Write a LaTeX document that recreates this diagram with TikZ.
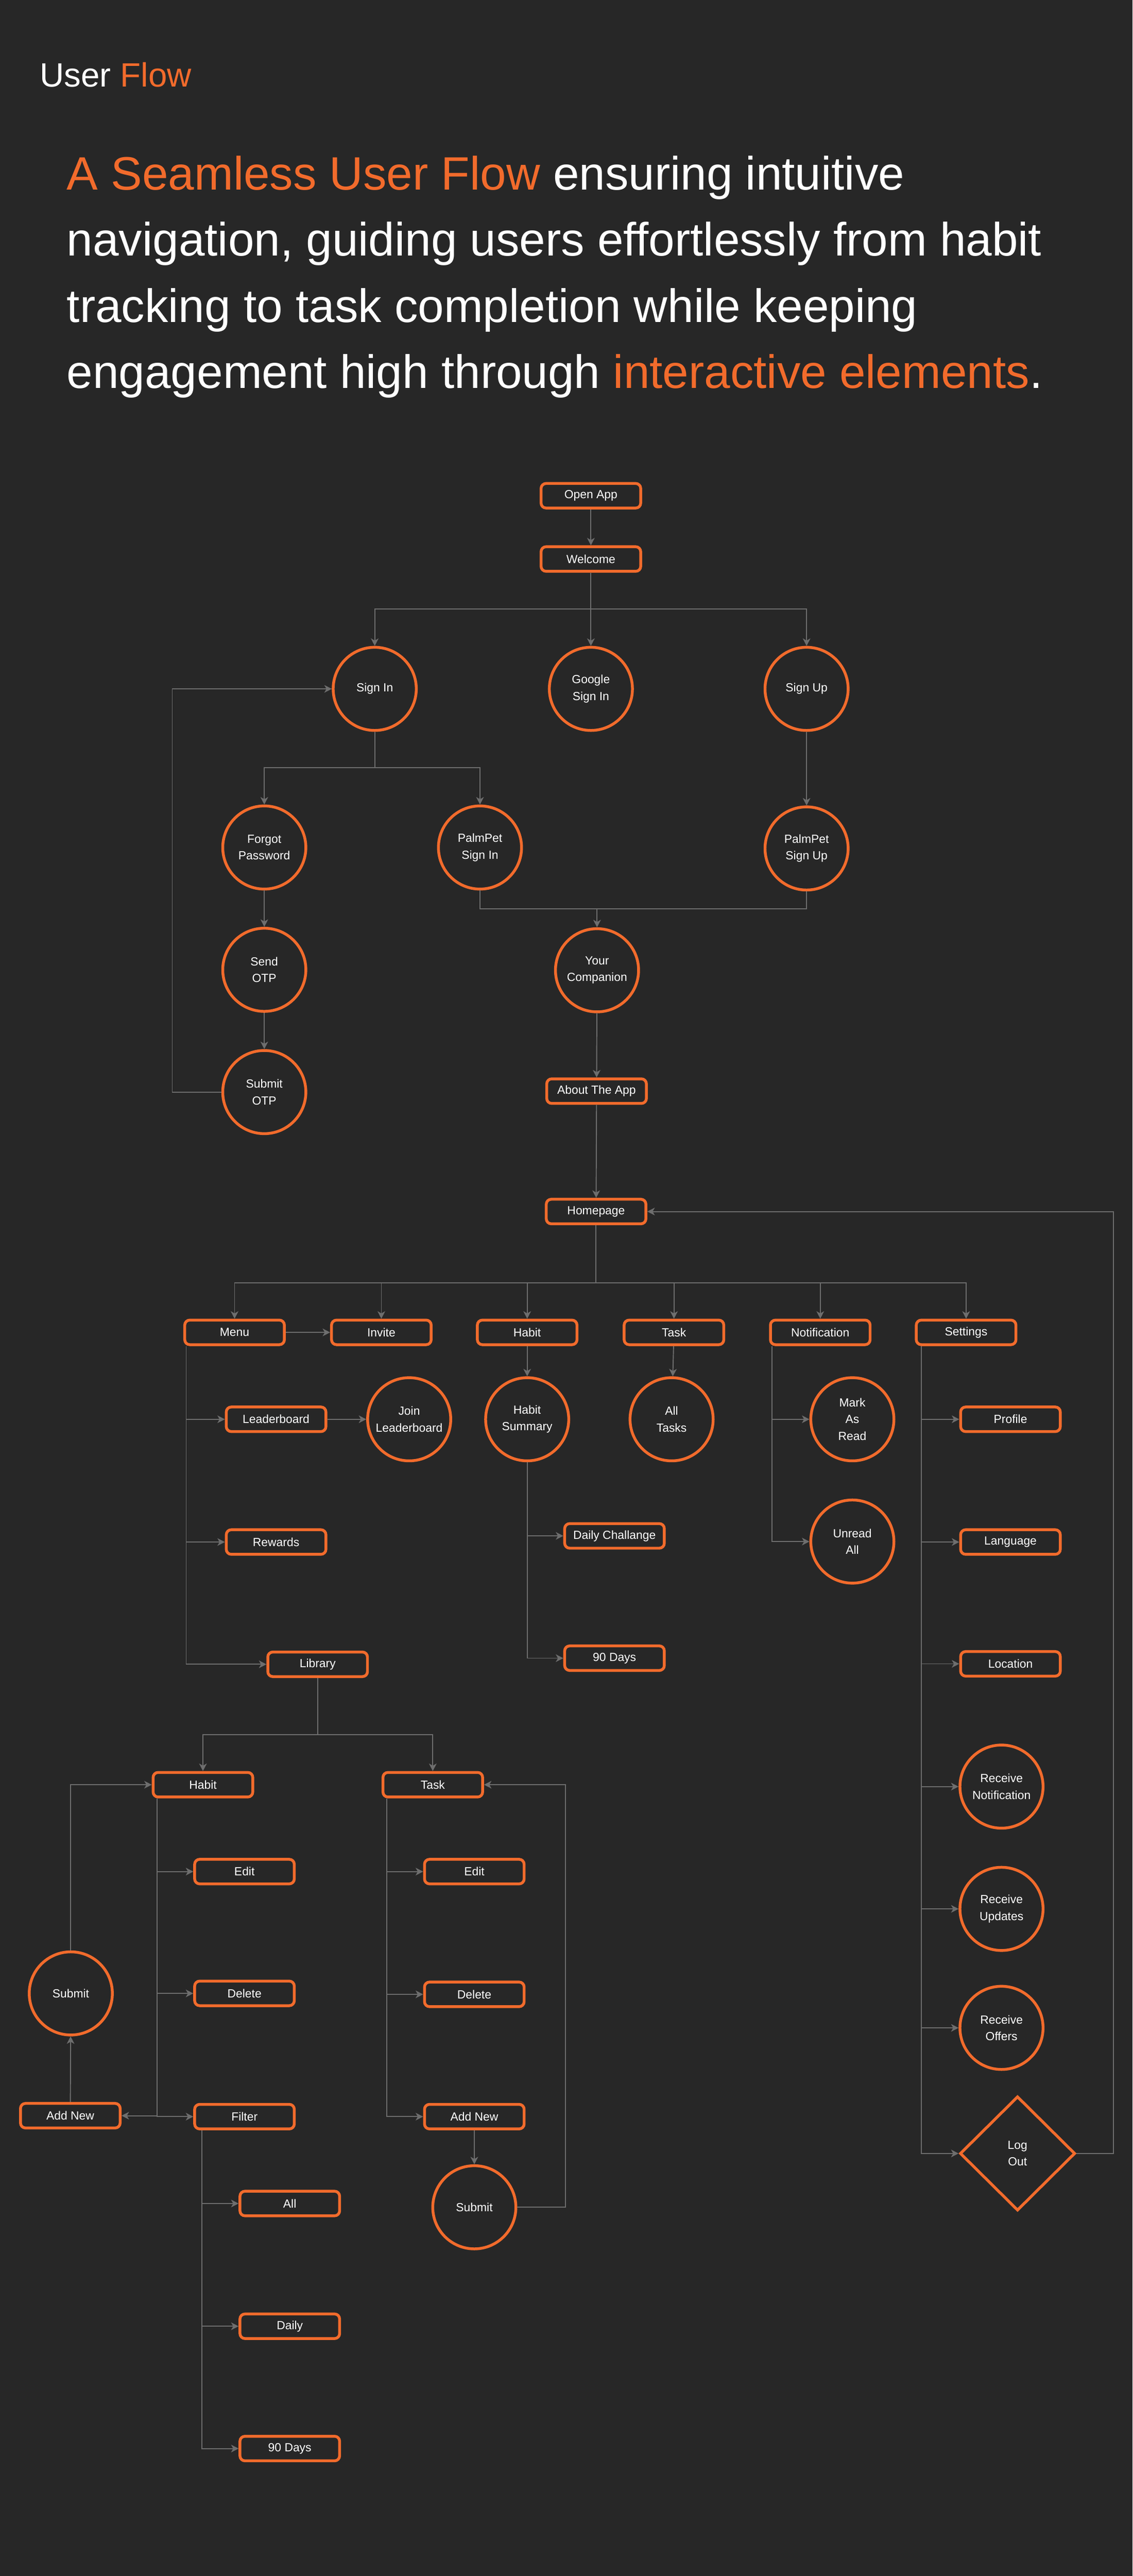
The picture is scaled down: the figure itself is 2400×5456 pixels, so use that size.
\documentclass[tikz,border=0pt]{standalone}
\usepackage{fontspec}
\setmainfont{Liberation Sans}
\usetikzlibrary{arrows.meta,shapes.geometric,calc}
\definecolor{bg}{HTML}{272727}
\definecolor{orng}{HTML}{F26B2C}
\definecolor{conn}{HTML}{6E6E6E}
\newcommand\myNodeFont{\fontsize{7.1pt}{10pt}\selectfont}
\begin{document}
\begin{tikzpicture}[x=0.01cm,y=-0.01cm,
  box/.style={rectangle, rounded corners=3pt, draw=orng, line width=1.7pt, fill=bg,
    minimum width=2.11cm, minimum height=0.52cm, inner sep=0pt, text=white,
    font=\myNodeFont, align=center},
  circ/.style={circle, draw=orng, line width=1.7pt, fill=bg, minimum size=1.76cm,
    inner sep=0pt, text=white, font=\myNodeFont, align=center},
  dia/.style={diamond, draw=orng, line width=1.7pt, fill=bg, minimum width=2.44cm,
    minimum height=2.42cm, inner sep=0pt, text=white, font=\myNodeFont, align=center},
  wire/.style={draw=conn, line width=0.6pt},
  arr/.style={draw=conn, line width=0.6pt, -{Stealth[length=4.5pt,width=4.6pt,inset=1.3pt]}},
  hdr/.style={anchor=base west, inner sep=0pt, text=white},
  para/.style={hdr, font=\fontsize{28.2pt}{34pt}\selectfont}
]
\fill[bg] (0,0) rectangle (2400,5456);
\useasboundingbox (0,0) rectangle (2400,5456);

% header
\node[hdr, font=\fontsize{20.3pt}{24pt}\selectfont] (title) at (84,184) {User \textcolor{orng}{Flow}};
\node[para] (p1) at (141,402) {\textcolor{orng}{A Seamless User Flow} ensuring intuitive};
\node[para] (p2) at (141,542) {navigation, guiding users effortlessly from habit};
\node[para] (p3) at (141,683) {tracking to task completion while keeping};
\node[para] (p4) at (141,822) {engagement high through \textcolor{orng}{interactive elements}.};

% top part
\node[box] (openapp) at (1252,1050) {Open App};
\node[box] (welcome) at (1252,1184) {Welcome};
\node[circ] (signin) at (794,1459) {Sign In};
\node[circ] (google) at (1252,1459) {Google\\Sign In};
\node[circ] (signup) at (1709,1459) {Sign Up};
\node[circ] (forgot) at (560,1795) {Forgot\\Password};
\node[circ] (palmin) at (1017,1795) {PalmPet\\Sign In};
\node[circ] (palmup) at (1709,1797) {PalmPet\\Sign Up};
\node[circ] (sendotp) at (560,2054) {Send\\OTP};
\node[circ] (submitotp) at (560,2313) {Submit\\OTP};
\node[circ] (companion) at (1265,2055) {Your\\Companion};
\node[box] (about) at (1264,2311) {About The App};
\node[box] (home) at (1263,2566) {Homepage};

% main row
\node[box] (menu) at (497,2822) {Menu};
\node[box] (invite) at (808,2822) {Invite};
\node[box] (habit) at (1117,2822) {Habit};
\node[box] (task) at (1428,2822) {Task};
\node[box] (notif) at (1738,2822) {Notification};
\node[box] (settings) at (2047,2822) {Settings};

% menu branch
\node[box] (leader) at (585,3006) {Leaderboard};
\node[circ] (join) at (867,3006) {Join\\Leaderboard};
\node[box] (rewards) at (585,3266) {Rewards};
\node[box] (library) at (673,3525) {Library};

% habit / task / notification
\node[circ] (hsum) at (1117,3006) {Habit\\Summary};
\node[box] (daily) at (1302,3253) {Daily Challange};
\node[box] (ninety) at (1302,3512) {90 Days};
\node[circ] (alltasks) at (1423,3006) {All\\Tasks};
\node[circ] (markread) at (1806,3006) {Mark\\As\\Read};
\node[circ] (unread) at (1806,3265) {Unread\\All};

% settings
\node[box] (profile) at (2141,3006) {Profile};
\node[box] (language) at (2141,3266) {Language};
\node[box] (location) at (2141,3524) {Location};
\node[circ] (recnotif) at (2122,3784) {Receive\\Notification};
\node[circ] (recupd) at (2122,4043) {Receive\\Updates};
\node[circ] (recoff) at (2122,4295) {Receive\\Offers};
\node[dia] (logout) at (2156,4561) {Log\\Out};

% library
\node[box] (habitlib) at (430,3780) {Habit};
\node[box] (tasklib) at (917,3780) {Task};
\node[box] (hedit) at (518,3964) {Edit};
\node[box] (hdel) at (518,4222) {Delete};
\node[box] (hfilter) at (518,4483) {Filter};
\node[box] (haddnew) at (149,4481) {Add New};
\node[circ] (hsubmit) at (150,4222) {Submit};
\node[box] (fall) at (614,4667) {All};
\node[box] (fdaily) at (614,4927) {Daily};
\node[box] (fninety) at (614,5186) {90 Days};
\node[box] (tedit) at (1005,3964) {Edit};
\node[box] (tdel) at (1005,4224) {Delete};
\node[box] (tadd) at (1005,4483) {Add New};
\node[circ] (tsubmit) at (1005,4675) {Submit};

% connectors: top
\draw[arr] (openapp) -- (welcome);
\coordinate (j1) at (1252,1290);
\draw[wire] (welcome.south) -- (j1);
\draw[arr] (j1) -| (signin.north);
\draw[arr] (j1) -| (signup.north);
\draw[arr] (j1) -- (google.north);
\coordinate (j2) at (794,1626);
\draw[wire] (signin.south) -- (j2);
\draw[arr] (j2) -| (forgot.north);
\draw[arr] (j2) -| (palmin.north);
\draw[arr] (signup) -- (palmup);
\draw[arr] (forgot) -- (sendotp);
\draw[arr] (sendotp) -- (submitotp);
\coordinate (l1) at (365,1459);
\draw[arr] (submitotp.west) -| (l1) -- (signin.west);
\coordinate (j3) at (1265,1925);
\draw[wire] (palmin.south) |- (j3) -| (palmup.south);
\draw[arr] (j3) -- (companion.north);
\draw[arr] (companion) -- (about);
\draw[arr] (about) -- (home);

% homepage row
\coordinate (j4) at (1263,2717);
\draw[wire] (home.south) -- (j4);
\foreach \n in {menu,invite,habit,task,notif,settings} \draw[arr] (j4) -| (\n.north);
\draw[arr] (menu) -- (invite);

% menu
\coordinate (mtop) at ($(menu.south west)+(6,0)$);
\foreach \n in {leader,rewards,library} \draw[arr] (mtop) |- (\n.west);
\draw[arr] (leader) -- (join);

% habit, task, notification
\draw[arr] (habit) -- (hsum);
\draw[arr] (hsum.south) |- (daily.west);
\draw[arr] (hsum.south) |- (ninety.west);
\draw[arr] (task) -- (alltasks);
\coordinate (ntop) at ($(notif.south west)+(6,0)$);
\draw[arr] (ntop) |- (markread.west);
\draw[arr] (ntop) |- (unread.west);

% settings
\coordinate (stop) at ($(settings.south west)+(14,0)$);
\foreach \n in {profile,language,location,recnotif,recupd,recoff,logout} \draw[arr] (stop) |- (\n.west);
\coordinate (r1) at (2359,2566);
\draw[arr] (logout.east) -| (r1) -- (home.east);

% library
\coordinate (j5) at (673,3674);
\draw[wire] (library.south) -- (j5);
\draw[arr] (j5) -| (habitlib.north);
\draw[arr] (j5) -| (tasklib.north);
\coordinate (htop) at ($(habitlib.south west)+(11,0)$);
\foreach \n in {hedit,hdel,hfilter} \draw[arr] (htop) |- (\n.west);
\draw[arr] (htop) |- (haddnew.east);
\draw[arr] (haddnew) -- (hsubmit);
\draw[arr] (hsubmit.north) |- (habitlib.west);
\coordinate (ftop) at ($(hfilter.south west)+(18,0)$);
\foreach \n in {fall,fdaily,fninety} \draw[arr] (ftop) |- (\n.west);
\coordinate (ttop) at ($(tasklib.south west)+(11,0)$);
\foreach \n in {tedit,tdel,tadd} \draw[arr] (ttop) |- (\n.west);
\draw[arr] (tadd) -- (tsubmit);
\coordinate (r2) at (1198,3780);
\draw[arr] (tsubmit.east) -| (r2) -- (tasklib.east);
\end{tikzpicture}
\end{document}
